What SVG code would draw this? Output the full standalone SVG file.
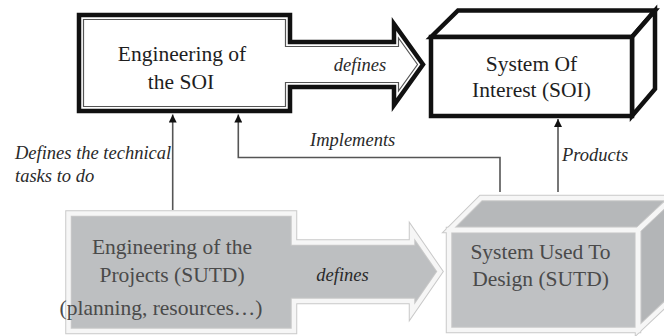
<svg xmlns="http://www.w3.org/2000/svg" width="664" height="336" viewBox="0 0 664 336">
<defs>
<style>
.lbl{font-family:"Liberation Serif","Times New Roman",serif;font-size:21.5px;fill:#1e1e1e;text-anchor:middle}
.lblg{font-family:"Liberation Serif","Times New Roman",serif;font-size:21.5px;fill:#4a4a4a;text-anchor:middle}
.it{font-family:"Liberation Serif","Times New Roman",serif;font-style:italic;font-size:18.5px;fill:#2a2a2a}
.thick{fill:#fff;stroke:#111;stroke-width:4.5;stroke-linejoin:miter;stroke-miterlimit:10}
.thin{fill:none;stroke:#555;stroke-width:1.2}
.gout{stroke:#c9c9c9;stroke-width:6.5;stroke-linejoin:miter}
.gin{fill:none;stroke:#f6f6f6;stroke-width:4.5;stroke-linejoin:miter}
.conn{fill:none;stroke:#555;stroke-width:1.6}
</style>
<marker id="ah" viewBox="0 0 10 10" refX="10" refY="5" markerWidth="10" markerHeight="8" markerUnits="userSpaceOnUse" orient="auto">
<path d="M0,0 L10,5 L0,10 Z" fill="#111"/>
</marker>
</defs>
<rect width="664" height="336" fill="#fff"/>

<g id="eng-soi">
<path class="thick" d="M79,15 L290,15 L290,42 L394,42 L394,24 L423,64.5 L394,105 L394,87 L290,87 L290,111 L79,111 Z"/>
<path class="thin" d="M83.5,19.5 L285.5,19.5 L285.5,46.5 L398.5,46.5 L398.5,38 L417.5,64.5 L398.5,91 L398.5,82.5 L285.5,82.5 L285.5,106.5 L83.5,106.5 Z"/>
<text class="lbl" x="182" y="61">Engineering of</text>
<text class="lbl" x="181" y="89">the SOI</text>
<text class="it" x="360" y="71" font-size="20" text-anchor="middle">defines</text>
</g>

<g id="soi">
<g fill="#fff" stroke="#111" stroke-width="4.5" stroke-linejoin="miter">
<path d="M431,37 L458,10.5 L655,10.5 L632,37 Z"/>
<path d="M632,37 L655,10.5 L655,89 L632,116 Z"/>
<rect x="431" y="37" width="201" height="79"/>
</g>
<text class="lbl" x="531.5" y="70.5">System Of</text>
<text class="lbl" x="531.5" y="97">Interest (SOI)</text>
</g>

<g id="eng-projects">
<path class="gout" fill="#bdbfc1" d="M68.5,213.5 L294,213.5 L294,242.5 L412,242.5 L412,231 L440,271.5 L412,312 L412,301 L294,301 L294,331 L68.5,331 Z"/>
<path class="gin" d="M68.5,213.5 L294,213.5 L294,242.5 L412,242.5 L412,231 L440,271.5 L412,312 L412,301 L294,301 L294,331 L68.5,331 Z"/>
<text class="lblg" x="172" y="254">Engineering of the</text>
<text class="lblg" x="172" y="282">Projects (SUTD)</text>
<text class="lblg" x="161" y="315" font-size="18.7">(planning, resources…)</text>
<text class="it" x="342.5" y="281" font-size="20" text-anchor="middle" fill="#444">defines</text>
</g>

<g id="sutd">
<path class="gout" fill="#b6b8ba" d="M449,230 L481,198 L672,198 L638,230 Z"/>
<path class="gout" fill="#b3b5b7" d="M638,230 L672,198 L672,298 L638,330 Z"/>
<rect class="gout" fill="#bfc1c3" x="449" y="230" width="189" height="100"/>
<path class="gin" d="M449,230 L481,198 L672,198 L638,230 Z"/>
<path class="gin" d="M638,230 L672,198 L672,298 L638,330 Z"/>
<rect class="gin" x="449" y="230" width="189" height="100"/>
<text class="lblg" x="540.5" y="259">System Used To</text>
<text class="lblg" x="540.5" y="286">Design (SUTD)</text>
</g>

<g id="connectors">
<path class="conn" d="M172.7,210 L172.7,114.5" marker-end="url(#ah)"/>
<path class="conn" d="M500,192 L500,157.5 L238.3,157.5 L238.3,114.5" marker-end="url(#ah)"/>
<path class="conn" d="M558,192 L558,119" marker-end="url(#ah)"/>
<text class="it" x="15" y="159">Defines the technical</text>
<text class="it" x="15" y="182">tasks to do</text>
<text class="it" x="310" y="146">Implements</text>
<text class="it" x="562" y="161">Products</text>
</g>
</svg>
